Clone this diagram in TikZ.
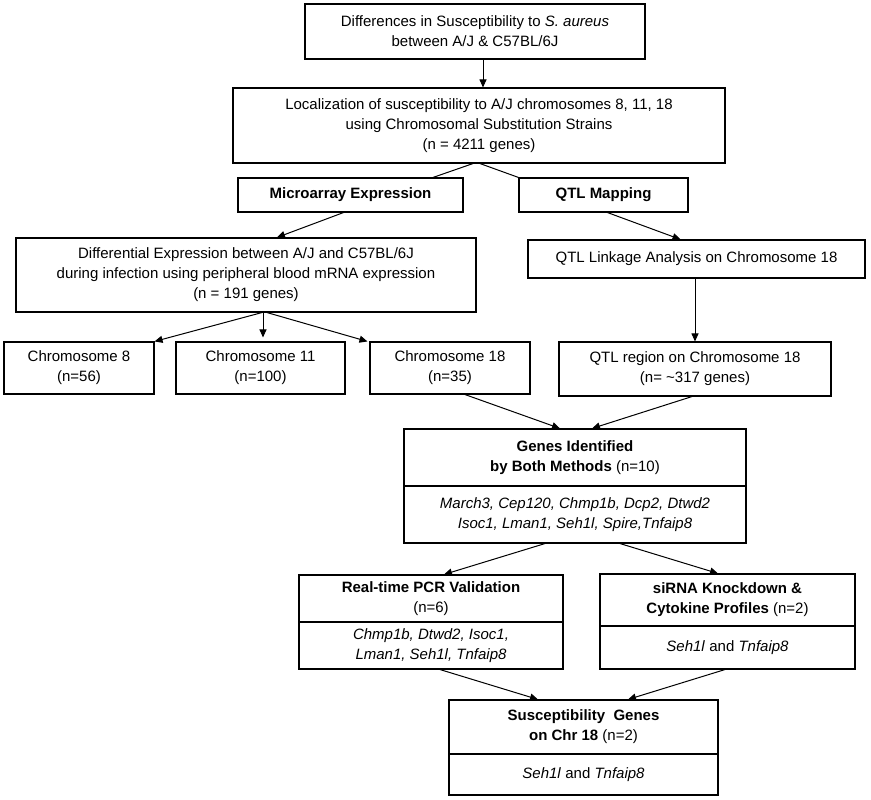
\documentclass[tikz,border=0pt]{standalone}
\usepackage{fontspec}
\setmainfont{Liberation Sans}
\usetikzlibrary{arrows.meta,calc}
\begin{document}
\begin{tikzpicture}[x=1pt,y=-1pt,
  box/.style={draw,line width=1.1pt,inner sep=0pt,align=center,font=\fontsize{15}{20}\selectfont},
  txt/.style={inner sep=0pt,align=center,font=\fontsize{15}{20}\selectfont},
  arr/.style={line width=1pt,-{Triangle[length=8pt,width=7pt]}},
  ln/.style={line width=1pt},
  dv/.style={line width=1.1pt}]
\useasboundingbox (0,0) rectangle (871,800);
\node[box,minimum width=340,minimum height=55] (top) at (475,31.5) {Differences in Susceptibility to \textit{S. aureus}\\between A/J \& C57BL/6J};
\node[box,minimum width=492,minimum height=75] (box2) at (479,125.5) {Localization of susceptibility to A/J chromosomes 8, 11, 18\\using Chromosomal Substitution Strains\\(n = 4211 genes)};
\node[box,minimum width=225,minimum height=34] (micro) at (350.5,195) {\textbf{Microarray Expression}};
\node[box,minimum width=169,minimum height=34] (qtlmap) at (603.5,195) {\textbf{QTL Mapping}};
\node[box,minimum width=460,minimum height=74] (diff) at (246,275) {Differential Expression between A/J and C57BL/6J\\during infection using peripheral blood mRNA expression\\(n = 191 genes)};
\node[box,minimum width=337,minimum height=38] (qtllink) at (696.5,259) {QTL Linkage Analysis on Chromosome 18};
\node[box,minimum width=150,minimum height=52] (chr8) at (79,368) {Chromosome 8\\(n=56)};
\node[box,minimum width=169,minimum height=52] (chr11) at (260.5,368) {Chromosome 11\\(n=100)};
\node[box,minimum width=160,minimum height=52] (chr18) at (450,368) {Chromosome 18\\(n=35)};
\node[box,minimum width=272,minimum height=54] (qtlreg) at (695,369) {QTL region on Chromosome 18\\(n= \textasciitilde317 genes)};
% genes identified
\node[box,minimum width=342,minimum height=114] (genes) at (575,486) {};
\draw[dv] (genes.west) -- (genes.east);
\node[txt] (genesh) at (575,457.5) {\textbf{Genes Identified}\\\textbf{by Both Methods} (n=10)};
\node[txt] (genesb) at (575,514.5) {\textit{March3, Cep120, Chmp1b, Dcp2, Dtwd2}\\\textit{Isoc1, Lman1, Seh1l, Spire,Tnfaip8}};
% real-time
\node[box,minimum width=264,minimum height=94] (rt) at (431,622) {};
\draw[dv] (rt.west) -- (rt.east);
\node[txt] (rth) at (431,598.5) {\textbf{Real-time PCR Validation}\\(n=6)};
\node[txt] (rtb) at (431,645.5) {\textit{Chmp1b, Dtwd2, Isoc1,}\\\textit{Lman1, Seh1l, Tnfaip8}};
% siRNA
\node[box,minimum width=255,minimum height=95] (si) at (727.5,621.5) {};
\draw[dv] ($(si.west)+(0,4.5)$) -- ($(si.east)+(0,4.5)$);
\node[txt] (sih) at (727.5,600) {\textbf{siRNA Knockdown \&}\\\textbf{Cytokine Profiles} (n=2)};
\node[txt] (sib) at (727.5,647.5) {\textit{Seh1l} and \textit{Tnfaip8}};
% susceptibility
\node[box,minimum width=269,minimum height=95] (sus) at (583.5,747.5) {};
\draw[dv] ($(sus.west)+(0,6.5)$) -- ($(sus.east)+(0,6.5)$);
\node[txt] (sush) at (583.5,727) {\textbf{Susceptibility\ \ Genes}\\\textbf{on Chr 18} (n=2)};
\node[txt] (susb) at (583.5,774.5) {\textit{Seh1l} and \textit{Tnfaip8}};
% connectors
\draw[arr] ($(top.south)+(8,0)$) -- ($(box2.north)+(4,0)$);
\draw[ln] ($(box2.south)+(-6,0)$) -- ($(micro.north)+(82.5,0)$);
\draw[ln] ($(box2.south)+(1,0)$) -- (qtlmap.north west);
\draw[arr] ($(micro.south)+(-7,0)$) -- ($(diff.north)+(31,0)$);
\draw[arr] ($(qtlmap.south)+(4,0)$) -- ($(qtllink.north)+(-16,0)$);
\draw[arr] ($(qtllink.south)+(-1.5,0)$) -- ($(qtlreg.north)+(0,0)$);
\draw[arr] ($(diff.south)+(16,0)$) -- (chr8.north east);
\draw[arr] ($(diff.south)+(17,0)$) -- ($(chr11.north)+(2.5,-4)$);
\draw[arr] ($(diff.south)+(21,0)$) -- ($(chr18.north west)+(-2,0)$);
\draw[arr] ($(chr18.south)+(15,0)$) -- ($(genes.north)+(-15,0)$);
\draw[arr] ($(qtlreg.south)+(-3,0)$) -- ($(genes.north)+(17,0)$);
\draw[arr] ($(genes.south)+(-30,0)$) -- ($(rt.north)+(13,0)$);
\draw[arr] ($(genes.south)+(45,0)$) -- ($(si.north)+(-9.5,0)$);
\draw[arr] ($(rt.south)+(9,0)$) -- ($(sus.north)+(-45.5,0)$);
\draw[arr] ($(si.south)+(-2.5,0)$) -- ($(sus.north)+(44.5,0)$);
\end{tikzpicture}
\end{document}
